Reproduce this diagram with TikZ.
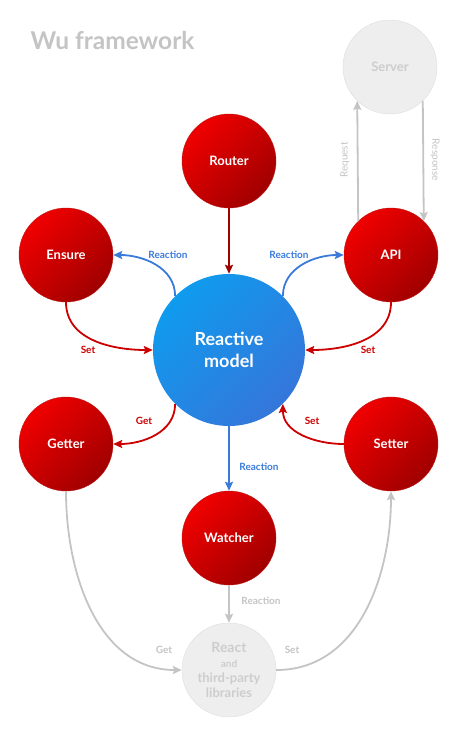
\documentclass[tikz,border=0pt]{standalone}
\usepackage{fontspec}
\setmainfont{Lato}
\usetikzlibrary{arrows.meta, positioning}
\definecolor{redA}{HTML}{F00000}
\definecolor{redB}{HTML}{A00000}
\definecolor{redEdge}{HTML}{C01818}
\definecolor{blueA}{HTML}{0F9BEE}
\definecolor{blueB}{HTML}{3576DA}
\definecolor{greyFill}{HTML}{EEEEEE}
\definecolor{greyEdge}{HTML}{DDDDDD}
\definecolor{greyL}{HTML}{C4C4C4}
\definecolor{greyT}{HTML}{CDCDCD}
\definecolor{redL}{HTML}{CC0000}
\definecolor{darkL}{HTML}{A00000}
\definecolor{blueL}{HTML}{3A7BDA}

\begin{document}
\begin{tikzpicture}[x=1pt,y=1pt,
	ball/.style={circle,minimum size=94pt,inner sep=0pt,align=center,font=\bfseries\fontsize{13}{15}\selectfont},
	redball/.style={ball,draw=redEdge,top color=redA,bottom color=redB,shading angle=45,text=white},
	blueball/.style={ball,minimum size=152pt,draw=none,top color=blueA,bottom color=blueB,shading angle=45,text=white,font=\bfseries\fontsize{18}{22}\selectfont},
	greyball/.style={ball,draw=greyEdge,fill=greyFill,text=greyT},
	conn/.style={line width=1.8pt,-{Stealth[length=9pt,width=8pt,inset=1.5pt]}},
	redline/.style={conn,draw=redL},
	blueline/.style={conn,draw=blueL},
	greyline/.style={conn,draw=greyL},
	lbl/.style={inner sep=1pt,font=\bfseries\fontsize{10}{12}\selectfont}]
	\useasboundingbox (0,0) rectangle (455,-734);
	\node[anchor=west,text=greyL,font=\bfseries\fontsize{24.5}{28}\selectfont] (title) at (27,-40) {Wu framework};
	\node[greyball] (server) at (390,-67) {Server};
	\node[redball] (router) at (229,-161) {Router};
	\node[redball] (ensure) at (66,-255) {Ensure};
	\node[redball] (api) at (391,-255) {API};
	\node[blueball] (model) at (229,-350) {Reactive\\model};
	\node[redball] (getter) at (66,-444) {Getter};
	\node[redball] (setter) at (391,-444) {Setter};
	\node[redball] (watcher) at (229,-538) {Watcher};
	\node[greyball] (react) at (229,-670) {\fontsize{14}{15}\selectfont React\\\fontsize{10}{12}\selectfont and\\third-party\\libraries};
	\draw[conn,draw=darkL] (router) -- (model);
	\draw[blueline] (model.135) to[out=90,in=0] (ensure.east);
	\draw[redline] (ensure.south) to[out=-90,in=180] (model.west);
	\draw[blueline] (model.45) to[out=90,in=180] (api.west);
	\draw[redline] (api.south) to[out=-90,in=0] (model.east);
	\draw[redline] (model.225) to[out=-90,in=0] (getter.east);
	\draw[redline] (setter.west) to[out=180,in=-90] (model.315);
	\draw[blueline] (model) -- (watcher);
	\draw[greyline] (watcher) -- (react);
	\draw[greyline] (getter.south) to[out=-90,in=180] (react.west);
	\draw[greyline] (react.east) to[out=0,in=-90] (setter.south);
	\draw[greyline] (api.134) -- (server.226);
	\draw[greyline] (server.314) -- (api.46);
	\node[lbl,text=blueL] (rEnsure) at (168,-255) {Reaction};
	\node[lbl,text=redL] (sEnsure) at (88,-350) {Set};
	\node[lbl,text=blueL] (rApi) at (289,-255) {Reaction};
	\node[lbl,text=redL] (sApi) at (368,-350) {Set};
	\node[lbl,text=redL] (gGetter) at (144,-421) {Get};
	\node[lbl,text=redL] (sSetter) at (312,-421) {Set};
	\node[lbl,text=blueL] (rWatcher) at (259,-467) {Reaction};
	\node[lbl,text=greyL] (rReact) at (261,-601) {Reaction};
	\node[lbl,text=greyL] (gReact) at (164,-650) {Get};
	\node[lbl,text=greyL] (sReact) at (292,-650) {Set};
	\node[lbl,text=greyL,font=\fontsize{10}{12}\selectfont,rotate=90] (req) at (345,-160) {Request};
	\node[lbl,text=greyL,font=\fontsize{10}{12}\selectfont,rotate=-90] (resp) at (435,-160) {Response};
\end{tikzpicture}
\end{document}
